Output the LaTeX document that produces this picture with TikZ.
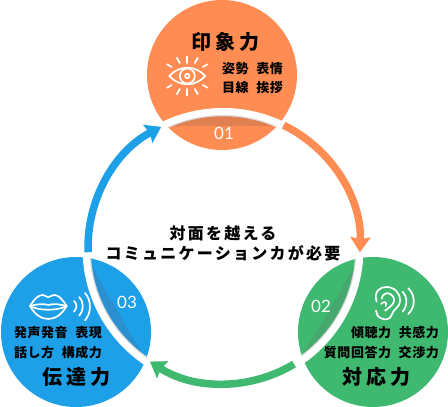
\documentclass[tikz,border=0pt]{standalone}
\usepackage{fontspec}
\usepackage{xcolor}
\usepackage{tikz}
\usetikzlibrary{calc,positioning,arrows.meta}
\newfontfamily\jptitle[LetterSpace=20]{Noto Sans CJK JP}
\newfontfamily\jpcentre[LetterSpace=14]{Noto Sans CJK JP}
\newfontfamily\jpsmall[LetterSpace=4,WordSpace=2.2]{Noto Sans CJK JP}
\newfontfamily\numfont{Lato}
\definecolor{orangeC}{HTML}{FF8C52}
\definecolor{orangeD}{HTML}{E08050}
\definecolor{greenC}{HTML}{3FB870}
\definecolor{greenD}{HTML}{46A86C}
\definecolor{blueC}{HTML}{1DA0E8}
\definecolor{blueD}{HTML}{2A90D0}
\begin{document}
\begin{tikzpicture}[
      x=1pt, y=1pt,
      petal/.style={circle, minimum size=150pt, inner sep=0pt, draw=none},
      title/.style={font=\fontsize{20}{20}\selectfont\jptitle\bfseries, inner sep=0pt},
      skill/.style={font=\fontsize{13}{13}\selectfont\jpsmall\bfseries, inner sep=0pt},
      centre/.style={font=\fontsize{16}{16}\selectfont\jpcentre\bfseries, inner sep=0pt},
      num/.style={font=\fontsize{17}{17}\selectfont\numfont, text=white, inner sep=0pt},
      cycle/.style={line width=7.5pt, -{Stealth[length=15pt,width=20pt,inset=2pt]}},
      icon/.style={draw=white, line width=1.7pt, line cap=round, line join=round},
    ]
    \useasboundingbox (0,0) rectangle (448,407);
    \coordinate (ring) at (224,159.5);
    \coordinate (gap) at (223,158.5);
    % Three circles
    \node [petal, fill=orangeC] (impress) at (222,332) {};
    \node [petal, fill=greenC] (respond) at (373,75) {};
    \node [petal, fill=blueC] (convey) at (76,75) {};
    % Shaded band under the white ring
    \foreach \who/\mid/\tone in {impress/90/orangeD, respond/-30/greenD, convey/210/blueD} {
      \begin{scope}
        \clip (\who) circle (75);
        \fill [\tone] ($(gap)+(\mid+23:133)$) arc [start angle=\mid+23, end angle=\mid-23, radius=133]
          .. controls ($(gap)+(\mid-8:124)$) and ($(gap)+(\mid+8:124)$) .. cycle;
        \draw [black!15, line width=1.5pt] (gap) circle (133);
      \end{scope}
    }
    \draw [white, line width=7pt] (gap) circle (137);
    % Arrows round the ring
    \coordinate (orangeS) at ($(ring)+(64:136)$);
    \coordinate (greenS) at ($(ring)+(-59:136)$);
    \coordinate (blueS) at ($(ring)+(182:136)$);
    \draw [cycle, orangeC] (orangeS) arc [start angle=64, end angle=-2, radius=136];
    \draw [cycle, greenC] (greenS) arc [start angle=-59, end angle=-123, radius=136];
    \draw [cycle, blueC] (blueS) arc [start angle=182, end angle=117.5, radius=136];
    % Texts
    \node [title] (impressT) at (225,365) {印象力};
    \node [skill, anchor=west] (impressA) at (222,338) {姿勢 表情};
    \node [skill, anchor=west] (impressB) at (222,319) {目線 挨拶};
    \node [num] (one) at (224,273.5) {01};
    \node [title] (respondT) at (376,30) {対応力};
    \node [skill, anchor=east] (respondA) at (439,74) {傾聴力 共感力};
    \node [skill, anchor=east] (respondB) at (439,54) {質問回答力 交渉力};
    \node [num] (two) at (321,101) {02};
    \node [title] (conveyT) at (76,30) {伝達力};
    \node [skill, anchor=west] (conveyA) at (14,74) {発声発音 表現};
    \node [skill, anchor=west] (conveyB) at (14,54) {話し方 構成力};
    \node [num] (three) at (127,105) {03};
    \node [centre] (lineA) at (223,173.5) {対面を越える};
    \node [centre] (lineB) at (223,153.5) {コミュニケーションカが必要};
    % Eye
    \begin{scope}[shift={(187.3,331)}]
      \draw [icon] (-18,0) .. controls (-8,11) and (8,11) .. (18,0) .. controls (8,-11) and (-8,-11) .. (-18,0) -- cycle;
      \draw [icon] (0,0) circle (7.5);
      \draw [icon] (0,0) circle (2.2);
      \foreach \ang/\rin/\rout in {90/13/19.5, 60/15/21, 30/18/23.5, 120/15/21, 150/18/23.5, -90/13/19.5, -60/15/21, -30/18/23.5, -120/15/21, -150/18/23.5} {
        \draw [icon] (\ang:\rin) -- (\ang:\rout);
      }
    \end{scope}
    % Lips
    \begin{scope}[shift={(20,122)}, x=0.333pt, y=-0.333pt]
      \draw [icon] (30,63) .. controls (45,40) and (55,30) .. (68,30) .. controls (76,30) and (80,37) .. (85,37)
        .. controls (90,37) and (94,30) .. (102,30) .. controls (115,30) and (125,40) .. (140,63)
        .. controls (125,90) and (105,102) .. (85,102) .. controls (65,102) and (45,90) .. (30,63) -- cycle;
      \draw [icon] (30,63) .. controls (50,58) and (70,55) .. (85,60) .. controls (100,55) and (120,58) .. (140,63);
      \draw [icon] (30,63) .. controls (55,78) and (115,78) .. (140,63);
      \draw [icon] (162,48) .. controls (172,56) and (172,70) .. (162,80);
      \draw [icon] (178,36) .. controls (192,50) and (192,78) .. (178,92);
      \draw [icon] (195,24) .. controls (215,45) and (215,85) .. (195,106);
    \end{scope}
    % Ear
    \begin{scope}[shift={(365,127)}, x=0.333pt, y=-0.333pt]
      \draw [icon] (35,65) .. controls (25,35) and (45,20) .. (65,21) .. controls (90,22) and (106,40) .. (105,62)
        .. controls (104,85) and (85,85) .. (80,105) .. controls (76,120) and (60,120) .. (48,115) .. controls (38,110) and (34,102) .. (33,92);
      \draw [icon] (50,56) .. controls (52,42) and (66,36) .. (76,42) .. controls (92,50) and (90,70) .. (78,78)
        .. controls (70,83) and (66,90) .. (60,92);
      \draw [icon] (48,72) .. controls (58,62) and (68,66) .. (62,78);
      \draw [icon] (113,35) .. controls (128,50) and (128,78) .. (113,95);
      \draw [icon] (130,25) .. controls (152,45) and (152,82) .. (130,102);
    \end{scope}
\end{tikzpicture}
\end{document}
